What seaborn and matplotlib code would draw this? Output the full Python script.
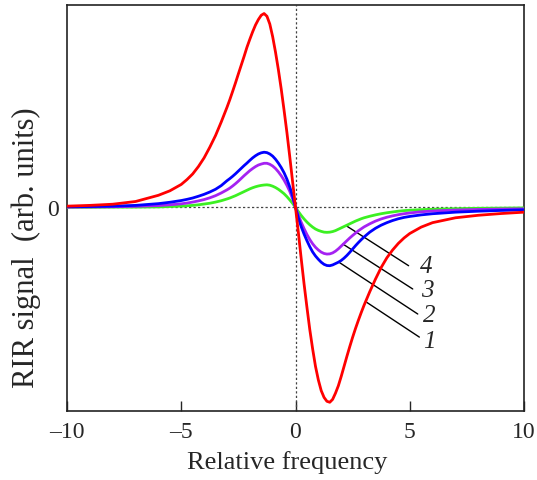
import pandas as pd
import matplotlib
matplotlib.use('Agg')
import matplotlib.pyplot as plt
import seaborn as sns

# relative frequency grid
freq = [-10, -9, -8, -7, -6, -5.5, -5, -4.75, -4.5, -4.25, -4, -3.75, -3.5, -3.25,
        -3, -2.875, -2.75, -2.625, -2.5, -2.375, -2.25, -2.125, -2, -1.875, -1.75, -1.625,
        -1.5, -1.375, -1.25, -1.125, -1, -0.875, -0.75, -0.625, -0.5, -0.375, -0.25, -0.125,
        0, 0.125, 0.25, 0.375, 0.5, 0.625, 0.75, 0.875, 1, 1.125, 1.25, 1.375,
        1.5, 1.625, 1.75, 1.875, 2, 2.125, 2.25, 2.375, 2.5, 2.625, 2.75, 2.875, 3,
        3.25, 3.5, 3.75, 4, 4.25, 4.5, 4.75, 5, 5.5, 6, 7, 8, 9, 10]

# curve 1 (red)
sig1 = [0.006, 0.010, 0.016, 0.030, 0.062, 0.085, 0.118, 0.143, 0.172, 0.21, 0.255, 0.31, 0.37, 0.44,
        0.515, 0.555, 0.598, 0.642, 0.688, 0.733, 0.778, 0.825, 0.866, 0.905, 0.94, 0.968,
        0.99, 0.999, 0.985, 0.945, 0.88, 0.80, 0.71, 0.61, 0.50, 0.385, 0.26, 0.13,
        0.0, -0.13, -0.265, -0.395, -0.515, -0.63, -0.73, -0.82, -0.89, -0.945, -0.98, -1.0,
        -1.005, -0.99, -0.958, -0.92, -0.872, -0.82, -0.768, -0.718, -0.67, -0.625, -0.583, -0.543, -0.505,
        -0.435, -0.37, -0.31, -0.26, -0.22, -0.186, -0.158, -0.135, -0.102, -0.079, -0.054, -0.041, -0.032, -0.025]
# curve 2 (blue)
sig2 = [0.003, 0.004, 0.006, 0.010, 0.019, 0.026, 0.035, 0.041, 0.048, 0.057, 0.067, 0.079, 0.093, 0.112,
        0.137, 0.148, 0.16, 0.173, 0.187, 0.201, 0.215, 0.228, 0.242, 0.255, 0.266, 0.275,
        0.281, 0.284, 0.282, 0.275, 0.264, 0.248, 0.228, 0.205, 0.178, 0.145, 0.105, 0.058,
        0.0, -0.055, -0.10, -0.138, -0.172, -0.203, -0.23, -0.251, -0.268, -0.283, -0.294, -0.30,
        -0.301, -0.297, -0.29, -0.283, -0.274, -0.262, -0.248, -0.232, -0.215, -0.198, -0.182, -0.167, -0.153,
        -0.128, -0.108, -0.092, -0.079, -0.068, -0.059, -0.052, -0.047, -0.039, -0.033, -0.025, -0.020, -0.016, -0.013]
# curve 3 (purple)
sig3 = [0.001, 0.002, 0.003, 0.005, 0.009, 0.013, 0.018, 0.022, 0.027, 0.033, 0.040, 0.049, 0.060, 0.074,
        0.090, 0.099, 0.110, 0.122, 0.135, 0.149, 0.163, 0.176, 0.189, 0.200, 0.210, 0.218,
        0.223, 0.227, 0.227, 0.222, 0.213, 0.200, 0.183, 0.163, 0.140, 0.113, 0.082, 0.043,
        0.0, -0.04, -0.077, -0.11, -0.14, -0.166, -0.188, -0.206, -0.22, -0.231, -0.238, -0.241,
        -0.24, -0.235, -0.226, -0.214, -0.200, -0.186, -0.172, -0.158, -0.145, -0.133, -0.121, -0.111, -0.101,
        -0.085, -0.071, -0.06, -0.051, -0.044, -0.038, -0.033, -0.029, -0.023, -0.019, -0.014, -0.011, -0.009, -0.008]
# curve 4 (green)
sig4 = [0.0, 0.0, 0.001, 0.001, 0.002, 0.004, 0.006, 0.008, 0.010, 0.013, 0.017, 0.021, 0.027, 0.034,
        0.043, 0.048, 0.054, 0.060, 0.067, 0.074, 0.081, 0.088, 0.095, 0.101, 0.106, 0.110,
        0.113, 0.115, 0.116, 0.114, 0.109, 0.102, 0.093, 0.082, 0.070, 0.055, 0.038, 0.020,
        0.0, -0.022, -0.042, -0.06, -0.076, -0.09, -0.102, -0.112, -0.119, -0.124, -0.128, -0.129,
        -0.128, -0.125, -0.12, -0.113, -0.106, -0.099, -0.092, -0.085, -0.078, -0.071, -0.065, -0.059, -0.054,
        -0.046, -0.039, -0.033, -0.028, -0.024, -0.02, -0.017, -0.015, -0.012, -0.01, -0.007, -0.005, -0.004, -0.003]

curve_labels = ['1', '2', '3', '4']
colors = {'1': '#ff0000', '2': '#0000ff', '3': '#a522f2', '4': '#3cf022'}

# leader lines: start on the curve, end near the label
lead_start = {'4': (2.22, -0.095), '3': (2.07, -0.189), '2': (1.89, -0.282), '1': (3.12, -0.49)}
lead_end = {'4': (4.95, -0.301), '3': (5.13, -0.421), '2': (5.35, -0.55), '1': (5.42, -0.669)}
label_pos = {'4': (5.45, -0.30), '3': (5.5, -0.425), '2': (5.6, -0.553), '1': (5.6, -0.69)}

df = pd.DataFrame({
    'freq': freq * 4,
    'signal': sig1 + sig2 + sig3 + sig4,
    'curve': ['1'] * len(freq) + ['2'] * len(freq) + ['3'] * len(freq) + ['4'] * len(freq),
})

sns.set_style('ticks')
plt.rcParams['font.family'] = ['Liberation Serif', 'DejaVu Serif']

fig = plt.figure(figsize=(5.37, 4.81), dpi=100)
ax = fig.add_axes([67 / 537, 69 / 481, 457 / 537, 406 / 481])

# dotted zero lines
ax.axhline(0, color='#444444', lw=0.9, ls=(0, (1.8, 1.8)), zorder=1)
ax.axvline(0, color='#444444', lw=0.9, ls=(0, (1.8, 1.8)), zorder=1)

sns.lineplot(data=df, x='freq', y='signal', hue='curve', hue_order=['4', '3', '2', '1'],
             palette=colors, estimator=None, sort=False, lw=2.0, legend=False, ax=ax, zorder=3)

for c in curve_labels:
    (x0, y0), (x1, y1) = lead_start[c], lead_end[c]
    ax.plot([x0, x1], [y0, y1], color='black', lw=1.0, zorder=2)
    ax.text(label_pos[c][0], label_pos[c][1], c, fontsize=18, style='italic',
            ha='left', va='center')

ax.set_xlim(-10, 10)
ax.set_ylim(-1.05, 1.043)
ax.set_xticks([-10, -5, 0, 5, 10])
ax.set_xticklabels(['\u201310', '\u20135', '0', '5', '10'])
ax.set_yticks([0])
ax.set_yticklabels(['0'])
ax.tick_params(axis='x', direction='in', length=7.5, width=1.0, labelsize=17, pad=7)
ax.tick_params(axis='y', length=0, labelsize=17, pad=6)
for s in ax.spines.values():
    s.set_linewidth(1.2)
    s.set_color('#222222')

ax.set_xlabel('Relative frequency', fontsize=19, va='top')
ax.xaxis.set_label_coords(0.4825, -0.096)
ax.set_ylabel('RIR signal  (arb. units)', fontsize=22, va='center')
ax.yaxis.set_label_coords(-0.0897, 0.405)

fig.savefig('out.png', dpi=100)
